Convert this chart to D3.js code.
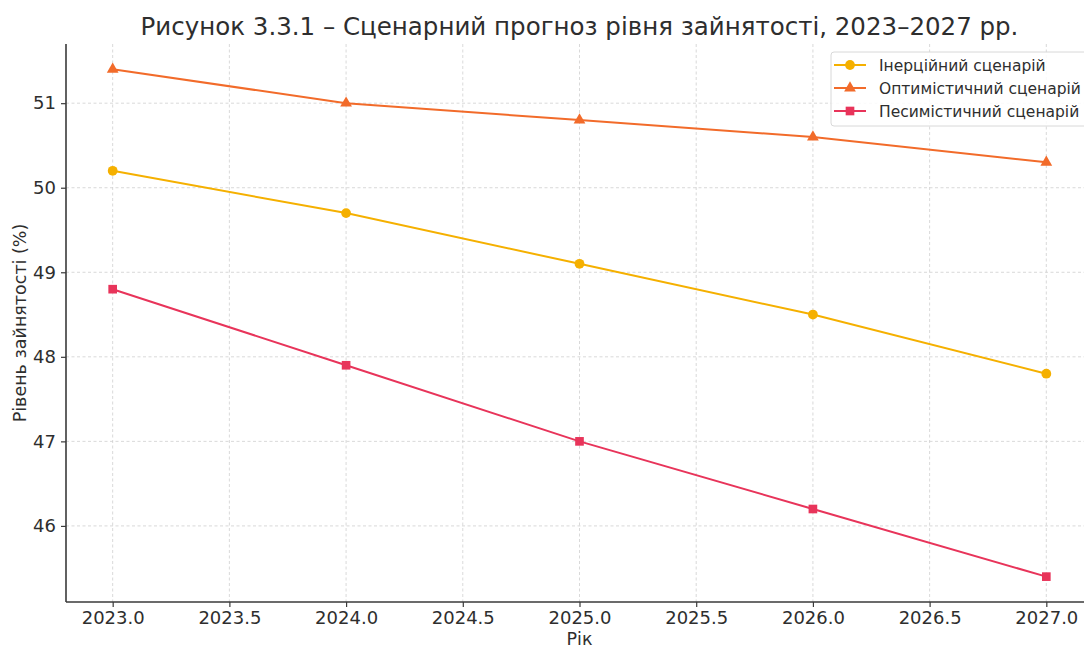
<!DOCTYPE html>
<html>
<head>
<meta charset="utf-8">
<script src="https://cdn.jsdelivr.net/npm/d3@7"></script>
<style>
  body { margin: 0; background: #fff; }
  svg { font-family: "DejaVu Sans", sans-serif; }
</style>
</head>
<body>
<svg width="1084" height="646"></svg>
<script>
// data
var years = [2023, 2024, 2025, 2026, 2027];
var inertial = [50.2, 49.7, 49.1, 48.5, 47.8];
var optimistic = [51.4, 51.0, 50.8, 50.6, 50.3];
var pessimistic = [48.8, 47.9, 47.0, 46.2, 45.4];
var xTicks = [2023.0, 2023.5, 2024.0, 2024.5, 2025.0, 2025.5, 2026.0, 2026.5, 2027.0];
var yTicks = [46, 47, 48, 49, 50, 51];

var series = [
  {name: "Інерційний сценарій", values: inertial, color: "#f5b000", marker: "circle"},
  {name: "Оптимістичний сценарій", values: optimistic, color: "#f26b2a", marker: "triangle"},
  {name: "Песимістичний сценарій", values: pessimistic, color: "#e8345a", marker: "square"}
];

var svg = d3.select("svg");
var pLeft = 66, pRight = 1093, pTop = 44, pBottom = 602;

var x = d3.scaleLinear().domain([2022.8, 2027.2]).range([pLeft, pRight]);
var y = d3.scaleLinear().domain([45.1, 51.7]).range([pBottom, pTop]);

// grid
var grid = svg.append("g");
grid.selectAll("line.gx").data(xTicks).enter().append("line")
  .attr("x1", d => x(d)).attr("x2", d => x(d))
  .attr("y1", pTop).attr("y2", pBottom)
  .attr("stroke", "#cfcfcf").attr("stroke-width", 0.8).attr("stroke-dasharray", "3,2.5");
grid.selectAll("line.gy").data(yTicks).enter().append("line")
  .attr("x1", pLeft).attr("x2", pRight)
  .attr("y1", d => y(d)).attr("y2", d => y(d))
  .attr("stroke", "#cfcfcf").attr("stroke-width", 0.8).attr("stroke-dasharray", "3,2.5");

// axes
var xAxis = svg.append("g")
  .attr("transform", "translate(0," + pBottom + ")")
  .call(d3.axisBottom(x).tickValues(xTicks).tickFormat(d3.format(".1f")).tickSize(5).tickPadding(4));
var yAxis = svg.append("g")
  .attr("transform", "translate(" + pLeft + ",0)")
  .call(d3.axisLeft(y).tickValues(yTicks).tickFormat(d3.format("d")).tickSize(5).tickPadding(5));

[xAxis, yAxis].forEach(function(a){
  a.select(".domain").attr("stroke", "#3a3a3a").attr("stroke-width", 1.6);
  a.selectAll(".tick line").attr("stroke", "#3a3a3a").attr("stroke-width", 1.2);
  a.selectAll(".tick text").attr("fill", "#2e2e2e").style("font-size", "18px").style("font-family", "DejaVu Sans");
});
xAxis.select(".domain").attr("d", "M" + pLeft + ",0H" + pRight);
yAxis.select(".domain").attr("d", "M0," + pTop + "V" + pBottom);

// lines and markers
var line = d3.line().x((d, i) => x(years[i])).y(d => y(d));

function drawMarker(g, type, color, size) {
  var sym = type == "circle" ? d3.symbolCircle : type == "triangle" ? d3.symbolTriangle : d3.symbolSquare;
  g.append("path").attr("d", d3.symbol().type(sym).size(size)).attr("fill", color);
}

series.forEach(function(s){
  svg.append("path").datum(s.values)
    .attr("d", line).attr("fill", "none")
    .attr("stroke", s.color).attr("stroke-width", 2);
  svg.append("g").selectAll("g").data(s.values).enter().append("g")
    .attr("transform", (d, i) => "translate(" + x(years[i]) + "," + y(d) + ")")
    .each(function(){ drawMarker(d3.select(this), s.marker, s.color, s.marker == "triangle" ? 60 : 75); });
});

// title
svg.append("text").attr("x", (pLeft + pRight) / 2).attr("y", 35)
  .attr("text-anchor", "middle").attr("fill", "#2e2e2e")
  .style("font-size", "24.5px")
  .text("Рисунок 3.3.1 – Сценарний прогноз рівня зайнятості, 2023–2027 рр.");

// axis labels
svg.append("text").attr("x", (pLeft + pRight) / 2).attr("y", 645)
  .attr("text-anchor", "middle").attr("fill", "#2e2e2e")
  .style("font-size", "17.5px").text("Рік");
svg.append("text")
  .attr("transform", "translate(26," + ((pTop + pBottom) / 2) + ") rotate(-90)")
  .attr("text-anchor", "middle").attr("fill", "#2e2e2e")
  .style("font-size", "17.5px").text("Рівень зайнятості (%)");

// legend
var lg = svg.append("g").attr("transform", "translate(831,52)");
lg.append("rect").attr("x", 0).attr("y", 0).attr("width", 270).attr("height", 74)
  .attr("rx", 3).attr("fill", "#fff").attr("fill-opacity", 0.85)
  .attr("stroke", "#d8d8d8").attr("stroke-width", 1);
series.forEach(function(s, i){
  var row = lg.append("g").attr("transform", "translate(0," + (13 + i * 23) + ")");
  row.append("line").attr("x1", 3).attr("x2", 35).attr("y1", 0).attr("y2", 0)
    .attr("stroke", s.color).attr("stroke-width", 2);
  var m = row.append("g").attr("transform", "translate(19,0)");
  drawMarker(m, s.marker, s.color, s.marker == "triangle" ? 60 : 75);
  row.append("text").attr("x", 48).attr("y", 5.5).attr("fill", "#2e2e2e")
    .style("font-size", "15.5px").text(s.name);
});
</script>
</body>
</html>
